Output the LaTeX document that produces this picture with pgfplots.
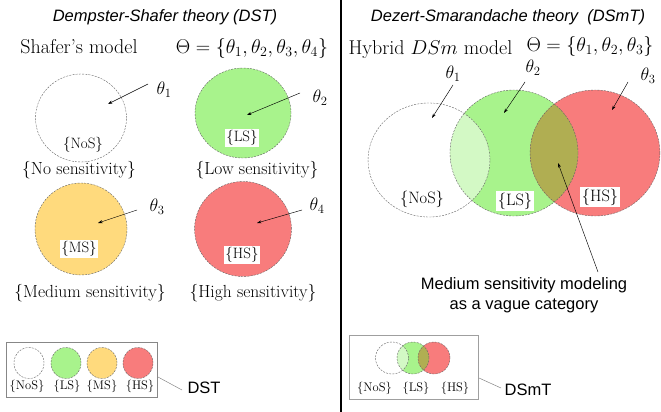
\RequirePackage{fix-cm}
\documentclass[border=0pt]{standalone}
\usepackage{pgfplots}
\pgfplotsset{compat=1.18}
\usepackage{fontspec}
\setsansfont{Liberation Sans}
\usetikzlibrary{arrows.meta}
\definecolor{cgreen}{RGB}{168,243,140}
\definecolor{cyellow}{RGB}{255,218,125}
\definecolor{cred}{RGB}{248,124,124}
\definecolor{colive}{RGB}{176,174,82}
\definecolor{cline}{RGB}{100,100,100}
\definecolor{cbox}{RGB}{135,135,135}
\pgfdeclareplotmark{lensbig}{\pgfscope
  \pgfpathellipse{\pgfpointorigin}{\pgfpoint{64bp}{0bp}}{\pgfpoint{0bp}{63bp}}\pgfusepath{clip}%
  \pgfpathellipse{\pgfpoint{81bp}{0bp}}{\pgfpoint{65bp}{0bp}}{\pgfpoint{0bp}{63bp}}\pgfusepath{fill}%
  \endpgfscope}
\pgfdeclareplotmark{lenssmall}{\pgfscope
  \pgfpathellipse{\pgfpointorigin}{\pgfpoint{16bp}{0bp}}{\pgfpoint{0bp}{16bp}}\pgfusepath{clip}%
  \pgfpathellipse{\pgfpoint{21bp}{0bp}}{\pgfpoint{16bp}{0bp}}{\pgfpoint{0bp}{16bp}}\pgfusepath{fill}%
  \endpgfscope}
% fill: x, y, colour, ry, xscale, opacity
\newcommand{\circfill}[6]{\addplot[only marks, mark=*, mark size=#4bp, mark options={xscale=#5, draw=#3, line width=0pt, draw opacity=0, fill=#3, fill opacity=#6}] coordinates {(#1,#2)};}
% outline: x, y, ry, xscale
\newcommand{\circline}[4]{\addplot[only marks, mark=o, mark size=#3bp, mark options={xscale=#4, draw=cline, line width=0.4bp, dash pattern=on 2bp off 1.2bp}] coordinates {(#1,#2)};}
\tikzset{
  ttl/.style={font=\sffamily\itshape\fontsize{16.5bp}{20bp}\selectfont},
  hdr/.style={font=\fontsize{20bp}{24bp}\selectfont, anchor=base},
  big/.style={font=\fontsize{17.5bp}{21bp}\selectfont},
  inl/.style={font=\fontsize{15bp}{18bp}\selectfont, fill=white, inner sep=1.5bp},
  th/.style={font=\fontsize{18bp}{21bp}\selectfont},
  sml/.style={font=\fontsize{12.5bp}{15bp}\selectfont},
  snote/.style={font=\sffamily\fontsize{16.5bp}{20bp}\selectfont},
  arr/.style={black, line width=0.45bp, -{Stealth[length=4.5bp,width=3bp]}},
}
\pgfplotsset{canvas/.style={at={(0,0)}, anchor=south west, scale only axis, width=661bp, height=412bp,
  xmin=0, xmax=661, ymin=0, ymax=412, y dir=reverse, hide axis, clip=false}}
\begin{document}
\begin{tikzpicture}
\path[use as bounding box] (0,0) rectangle (661bp,412bp);
% ================= layer 1: lines, boxes, circles =================
\begin{axis}[canvas]
\addplot[black, line width=2bp] coordinates {(341,0) (341,412)};
% left panel circles
\circfill{81}{118}{white}{44}{1.034}{1}
\circfill{243}{113}{cgreen}{45}{1.067}{1}
\circfill{81}{229}{cyellow}{46}{1.0}{1}
\circfill{243}{229}{cred}{47.5}{1.02}{1}
\circline{81}{118}{44}{1.034}
\circline{243}{113}{45}{1.067}
\circline{81}{229}{46}{1.0}
\circline{243}{229}{47.5}{1.02}
% left legend
\addplot[cbox, line width=0.8bp, fill=white] coordinates {(6,342) (157,342) (157,397) (6,397) (6,342)};
\circfill{29}{363}{white}{15.5}{0.97}{1}
\circfill{66}{363}{cgreen}{15.5}{0.97}{1}
\circfill{102}{363}{cyellow}{15.5}{0.97}{1}
\circfill{138}{363}{cred}{15.5}{0.97}{1}
\circline{29}{363}{15.5}{0.97}
\circline{66}{363}{15.5}{0.97}
\circline{102}{363}{15.5}{0.97}
\circline{138}{363}{15.5}{0.97}
\addplot[cbox, line width=0.5bp] coordinates {(158,377) (182,390)};
% right panel circles
\circfill{514}{153}{cgreen}{63}{1.016}{1}
\circfill{595}{153}{cred}{63}{1.03}{1}
\addplot[only marks, mark=lensbig, mark options={draw=none, fill=colive}] coordinates {(514,153)};
\circfill{429}{160}{white}{57}{1.07}{0.5}
\circline{514}{153}{63}{1.016}
\circline{595}{153}{63}{1.03}
\circline{429}{160}{57}{1.07}
% right legend
\addplot[cbox!80, line width=0.8bp, fill=white] coordinates {(349,335) (478,335) (478,399) (349,399) (349,335)};
\circfill{413}{358}{cgreen}{16}{1}{1}
\circfill{434}{358}{cred}{16}{1}{1}
\addplot[only marks, mark=lenssmall, mark options={draw=none, fill=colive}] coordinates {(413,358)};
\circfill{392}{358}{white}{16}{1.03}{0.5}
\circline{413}{358}{16}{1}
\circline{434}{358}{16}{1}
\circline{392}{358}{16}{1.03}
\addplot[cbox, line width=0.5bp] coordinates {(479,378) (501,388)};
\end{axis}
% ================= layer 2: arrows and texts =================
\begin{axis}[canvas]
\addplot[arr] coordinates {(148,84) (108,104)};
\addplot[arr] coordinates {(300,93) (247,115)};
\addplot[arr] coordinates {(137,210) (98,223)};
\addplot[arr] coordinates {(302,210) (257,223)};
\addplot[arr] coordinates {(453,85) (432,118)};
\addplot[arr] coordinates {(525,82) (504,113)};
\addplot[arr] coordinates {(628,82) (612,110)};
\addplot[arr] coordinates {(598,272) (558,163)};
% left texts
\node[ttl] at (axis cs:165,17) {Dempster-Shafer theory (DST)};
\node[hdr] at (axis cs:79,54) {Shafer's model};
\node[hdr] at (axis cs:252,54) {$\Theta=\{\theta_1,\theta_2,\theta_3,\theta_4\}$};
\node[th] at (axis cs:164,90) {$\theta_1$};
\node[th] at (axis cs:320,98) {$\theta_2$};
\node[th] at (axis cs:157,207) {$\theta_3$};
\node[th] at (axis cs:317,206) {$\theta_4$};
\node[inl] at (axis cs:83,145) {\{NoS\}};
\node[inl] at (axis cs:242,138) {\{LS\}};
\node[inl] at (axis cs:79,249) {\{MS\}};
\node[inl] at (axis cs:242,255) {\{HS\}};
\node[big] at (axis cs:79,170) {\{No sensitivity\}};
\node[big] at (axis cs:257,170) {\{Low sensitivity\}};
\node[big] at (axis cs:90,293) {\{Medium sensitivity\}};
\node[big] at (axis cs:253,293) {\{High sensitivity\}};
\node[sml] at (axis cs:27,386) {\{NoS\}};
\node[sml] at (axis cs:67,386) {\{LS\}};
\node[sml] at (axis cs:102,386) {\{MS\}};
\node[sml] at (axis cs:140,386) {\{HS\}};
\node[snote] at (axis cs:204,388) {DST};
% right texts
\node[ttl] at (axis cs:508,17) {Dezert-Smarandache theory\ \ (DSmT)};
\node[hdr, anchor=base west] at (axis cs:345,55) {Hybrid $DSm$ model};
\node[hdr] at (axis cs:590,52) {$\Theta=\{\theta_1,\theta_2,\theta_3\}$};
\node[th] at (axis cs:453,74) {$\theta_1$};
\node[th] at (axis cs:533,68) {$\theta_2$};
\node[th] at (axis cs:648,76) {$\theta_3$};
\node[inl, font=\fontsize{16.5bp}{19bp}\selectfont, fill=none] at (axis cs:422,199) {\{NoS\}};
\node[inl, font=\fontsize{16.5bp}{19bp}\selectfont] at (axis cs:515,201) {\{LS\}};
\node[inl, font=\fontsize{16.5bp}{19bp}\selectfont] at (axis cs:600,197) {\{HS\}};
\node[snote, align=center] at (axis cs:524,295) {Medium sensitivity modeling\\as a vague category};
\node[sml] at (axis cs:374.5,388) {\{NoS\}};
\node[sml] at (axis cs:416,388) {\{LS\}};
\node[sml] at (axis cs:455,388) {\{HS\}};
\node[snote] at (axis cs:528,390) {DSmT};
\end{axis}
\end{tikzpicture}
\end{document}
